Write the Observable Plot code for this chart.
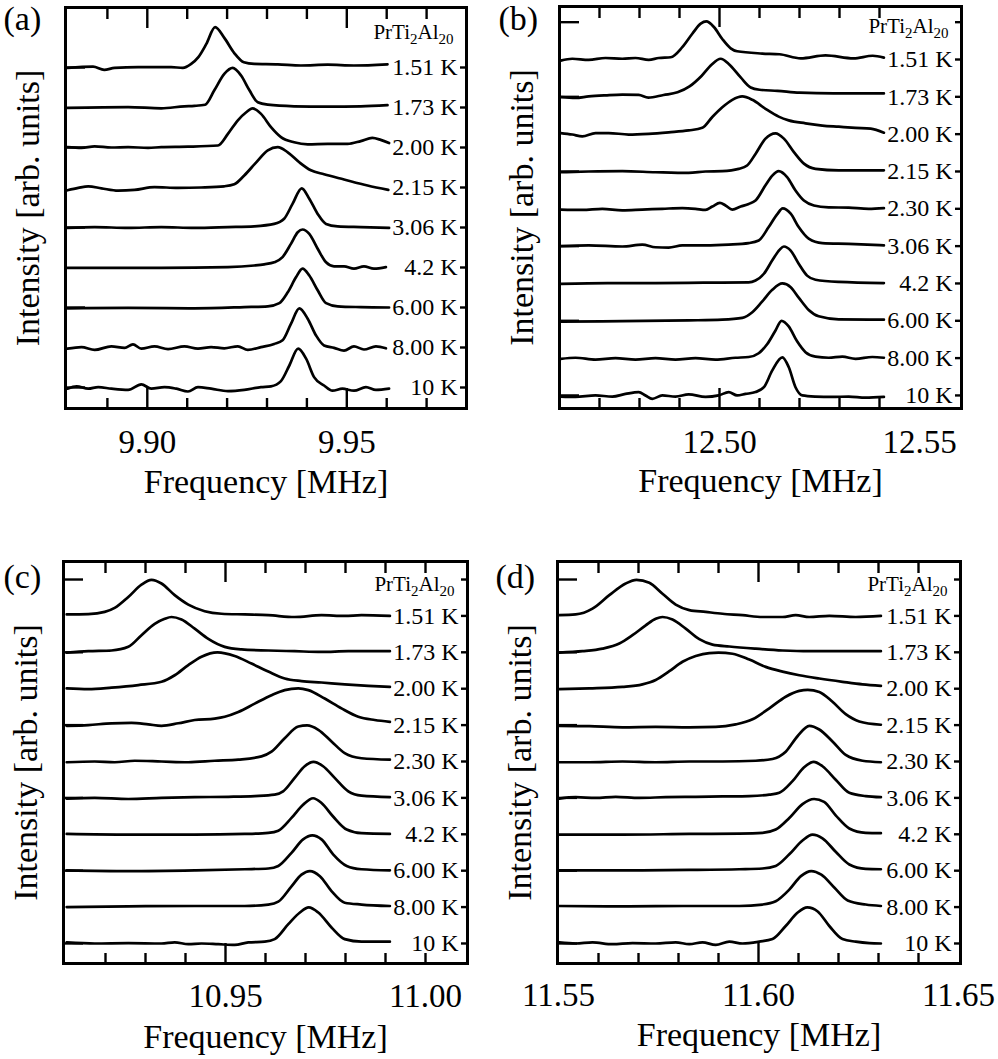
<!DOCTYPE html>
<html>
<head>
<meta charset="utf-8">
<script src="https://cdn.jsdelivr.net/npm/d3@7"></script>
<script src="https://cdn.jsdelivr.net/npm/@observablehq/plot@0.6"></script>
<style>
  html, body { margin: 0; padding: 0; background: #fff; }
  #fig { position: relative; width: 998px; height: 1059px; overflow: hidden; background: #fff;
         font-family: "Liberation Serif", "Times New Roman", Times, serif; }
  #fig > div { position: absolute; }
  #fig svg text { font-family: "Liberation Serif", "Times New Roman", Times, serif; }
</style>
</head>
<body>
<div id="fig"></div>
<script>
// NMR spectra of PrTi2Al20 at several temperatures, four lines (a)-(d).
// Each spectrum: [frequency (MHz), intensity relative to its own baseline];
// baselines are stacked one unit apart.

const tempsA = ["1.51 K", "1.73 K", "2.00 K", "2.15 K", "3.06 K", "4.2 K", "6.00 K", "8.00 K", "10 K"];
const tempsBCD = ["1.51 K", "1.73 K", "2.00 K", "2.15 K", "2.30 K", "3.06 K", "4.2 K", "6.00 K", "8.00 K", "10 K"];
const compound = "PrTi2Al20";

// ---- (a) ----
const a151 = [[9.8800,-0.01],[9.8864,0.02],[9.8892,-0.06],[9.8918,-0.01],[9.8977,0.01],[9.9060,0.01],[9.9089,-0.01],[9.9110,0.09],[9.9128,0.26],[9.9148,0.59],[9.9170,1.01],[9.9193,0.74],[9.9218,0.36],[9.9242,0.13],[9.9268,0.09],[9.9327,0.08],[9.9385,0.05],[9.9452,0.07],[9.9518,0.05],[9.9602,0.08]];
const a173 = [[9.8800,-0.01],[9.8952,0.01],[9.9035,-0.02],[9.9093,0.03],[9.9118,0.04],[9.9145,0.07],[9.9168,0.43],[9.9193,0.84],[9.9214,0.99],[9.9235,0.80],[9.9256,0.43],[9.9277,0.13],[9.9302,0.07],[9.9368,0.03],[9.9452,0.02],[9.9535,0.03],[9.9602,0.06]];
const a200 = [[9.8800,0.01],[9.8835,-0.01],[9.8868,0.03],[9.8910,0.00],[9.8952,0.01],[9.9002,-0.01],[9.9035,0.01],[9.9102,0.02],[9.9177,0.05],[9.9202,0.34],[9.9227,0.68],[9.9248,0.88],[9.9264,0.98],[9.9285,0.84],[9.9310,0.51],[9.9335,0.26],[9.9368,0.13],[9.9402,0.08],[9.9452,0.09],[9.9502,0.09],[9.9535,0.16],[9.9564,0.24],[9.9585,0.19],[9.9606,0.11]];
const a215 = [[9.8800,-0.07],[9.8827,-0.01],[9.8852,0.03],[9.8885,-0.02],[9.8927,-0.08],[9.8968,-0.06],[9.9018,0.01],[9.9077,-0.01],[9.9135,0.00],[9.9193,0.03],[9.9218,0.08],[9.9243,0.30],[9.9273,0.63],[9.9302,0.93],[9.9327,1.01],[9.9352,0.88],[9.9381,0.63],[9.9410,0.43],[9.9443,0.33],[9.9493,0.20],[9.9552,0.05],[9.9604,-0.06]];
const a306 = [[9.8800,-0.01],[9.8868,0.01],[9.8952,-0.01],[9.9035,0.01],[9.9118,-0.01],[9.9202,0.01],[9.9268,0.03],[9.9318,0.09],[9.9343,0.22],[9.9364,0.59],[9.9387,0.98],[9.9406,0.72],[9.9427,0.34],[9.9448,0.09],[9.9477,0.03],[9.9535,0.01],[9.9606,-0.01]];
const a42 = [[9.8800,-0.01],[9.9035,-0.01],[9.9202,0.01],[9.9268,0.05],[9.9293,0.08],[9.9318,0.13],[9.9339,0.26],[9.9360,0.59],[9.9377,0.88],[9.9389,0.95],[9.9406,0.84],[9.9427,0.47],[9.9448,0.13],[9.9468,0.03],[9.9493,0.03],[9.9518,-0.03],[9.9543,0.03],[9.9568,-0.03],[9.9598,0.01]];
const a600 = [[9.8800,-0.02],[9.8952,-0.01],[9.9118,-0.02],[9.9243,0.01],[9.9302,0.03],[9.9331,0.11],[9.9352,0.38],[9.9373,0.76],[9.9389,0.97],[9.9406,0.80],[9.9427,0.43],[9.9448,0.11],[9.9477,0.03],[9.9535,0.01],[9.9606,0.00]];
const a800 = [[9.8800,-0.03],[9.8835,0.01],[9.8868,-0.06],[9.8910,0.03],[9.8943,-0.01],[9.8964,0.08],[9.8985,-0.03],[9.9018,0.03],[9.9052,-0.04],[9.9093,0.03],[9.9127,-0.03],[9.9160,0.01],[9.9193,-0.02],[9.9227,0.03],[9.9252,-0.06],[9.9285,0.01],[9.9318,0.09],[9.9339,0.18],[9.9360,0.59],[9.9381,0.98],[9.9402,0.72],[9.9423,0.30],[9.9443,0.05],[9.9468,-0.01],[9.9493,-0.08],[9.9518,0.03],[9.9543,-0.05],[9.9573,0.03],[9.9598,-0.02]];
const a10 = [[9.8800,-0.03],[9.8823,0.03],[9.8852,-0.03],[9.8877,0.01],[9.8910,-0.03],[9.8952,-0.06],[9.8985,0.08],[9.9010,-0.03],[9.9043,0.01],[9.9073,-0.03],[9.9102,-0.10],[9.9127,0.01],[9.9160,-0.03],[9.9202,-0.09],[9.9243,-0.06],[9.9285,0.01],[9.9310,0.03],[9.9335,0.16],[9.9356,0.55],[9.9378,0.97],[9.9398,0.72],[9.9418,0.26],[9.9443,0.05],[9.9464,-0.08],[9.9489,-0.03],[9.9518,-0.08],[9.9548,0.01],[9.9573,-0.06],[9.9606,-0.03]];

// ---- (b) ----
const b151 = [[12.4603,-0.03],[12.4632,0.02],[12.4673,-0.01],[12.4715,0.04],[12.4757,0.02],[12.4790,0.04],[12.4823,-0.01],[12.4848,0.04],[12.4878,0.06],[12.4907,0.33],[12.4932,0.69],[12.4953,0.96],[12.4967,1.02],[12.4986,0.87],[12.5007,0.55],[12.5028,0.30],[12.5044,0.22],[12.5107,0.16],[12.5150,0.14],[12.5203,0.03],[12.5265,0.11],[12.5335,0.03],[12.5383,0.10],[12.5411,0.05]];
const b173 = [[12.4603,-0.01],[12.4640,-0.03],[12.4673,0.01],[12.4715,0.04],[12.4757,0.06],[12.4798,0.05],[12.4822,-0.02],[12.4860,0.05],[12.4895,0.12],[12.4925,0.28],[12.4955,0.56],[12.4980,0.86],[12.5003,1.02],[12.5023,0.88],[12.5053,0.52],[12.5078,0.25],[12.5100,0.19],[12.5145,0.16],[12.5200,0.11],[12.5285,0.09],[12.5340,0.09],[12.5411,0.09]];
const b200 = [[12.4603,0.03],[12.4632,-0.01],[12.4657,-0.06],[12.4690,0.03],[12.4723,0.03],[12.4773,-0.01],[12.4823,0.01],[12.4873,0.05],[12.4923,0.10],[12.4957,0.17],[12.4982,0.46],[12.5007,0.72],[12.5032,0.92],[12.5057,1.01],[12.5082,0.92],[12.5115,0.68],[12.5148,0.47],[12.5173,0.37],[12.5215,0.29],[12.5257,0.23],[12.5298,0.20],[12.5340,0.17],[12.5378,0.15],[12.5411,0.04]];
const b215 = [[12.4603,-0.02],[12.4673,0.00],[12.4757,0.01],[12.4840,-0.02],[12.4923,-0.04],[12.4965,0.00],[12.5007,0.01],[12.5048,0.07],[12.5069,0.16],[12.5090,0.47],[12.5115,0.88],[12.5140,1.02],[12.5161,0.88],[12.5186,0.52],[12.5211,0.21],[12.5240,0.07],[12.5298,0.03],[12.5357,0.03],[12.5411,0.03]];
const b230 = [[12.4603,-0.02],[12.4657,-0.03],[12.4707,0.00],[12.4757,-0.04],[12.4807,-0.02],[12.4857,0.00],[12.4907,0.02],[12.4940,0.00],[12.4965,-0.03],[12.4982,0.06],[12.5001,0.16],[12.5015,0.09],[12.5032,-0.02],[12.5053,0.06],[12.5073,0.13],[12.5090,0.22],[12.5115,0.63],[12.5132,0.89],[12.5148,1.01],[12.5169,0.85],[12.5190,0.49],[12.5211,0.22],[12.5236,0.09],[12.5273,0.04],[12.5323,0.03],[12.5373,0.00],[12.5411,0.02]];
const b306 = [[12.4603,0.00],[12.4673,0.02],[12.4757,-0.01],[12.4807,0.04],[12.4840,-0.03],[12.4873,-0.04],[12.4907,0.02],[12.4965,0.02],[12.5023,0.04],[12.5073,0.08],[12.5098,0.15],[12.5123,0.51],[12.5144,0.85],[12.5158,1.01],[12.5178,0.87],[12.5198,0.51],[12.5223,0.20],[12.5257,0.08],[12.5323,0.06],[12.5411,0.02]];
const b42 = [[12.4603,-0.01],[12.4720,0.01],[12.4840,0.01],[12.4960,0.02],[12.5073,0.03],[12.5090,0.08],[12.5111,0.26],[12.5132,0.62],[12.5150,0.90],[12.5161,0.99],[12.5178,0.88],[12.5198,0.53],[12.5219,0.21],[12.5240,0.10],[12.5298,0.04],[12.5411,0.01]];
const b600 = [[12.4603,-0.02],[12.4757,-0.01],[12.4923,0.01],[12.5007,0.03],[12.5057,0.08],[12.5082,0.23],[12.5107,0.52],[12.5132,0.83],[12.5157,1.00],[12.5178,0.90],[12.5198,0.62],[12.5223,0.29],[12.5248,0.12],[12.5298,0.04],[12.5411,0.03]];
const b800 = [[12.4603,-0.02],[12.4640,0.01],[12.4690,-0.04],[12.4740,0.00],[12.4790,-0.04],[12.4840,0.00],[12.4890,-0.04],[12.4940,0.00],[12.4990,-0.04],[12.5040,0.01],[12.5073,0.03],[12.5098,0.13],[12.5119,0.37],[12.5140,0.74],[12.5155,1.00],[12.5173,0.85],[12.5194,0.45],[12.5215,0.16],[12.5240,0.04],[12.5273,0.01],[12.5307,0.04],[12.5340,-0.02],[12.5382,0.03],[12.5411,0.01]];
const b10 = [[12.4603,-0.03],[12.4640,-0.04],[12.4690,0.00],[12.4732,-0.03],[12.4765,0.04],[12.4798,0.09],[12.4815,0.00],[12.4832,-0.09],[12.4857,0.00],[12.4890,-0.03],[12.4923,0.03],[12.4965,-0.04],[12.4998,0.00],[12.5023,0.09],[12.5044,0.00],[12.5065,0.04],[12.5090,0.09],[12.5111,0.22],[12.5132,0.67],[12.5157,1.02],[12.5173,0.76],[12.5190,0.22],[12.5207,0.00],[12.5240,-0.03],[12.5282,-0.04],[12.5323,-0.03],[12.5365,-0.06],[12.5411,-0.04]];

// ---- (c) ----
const c151 = [[10.9103,0.04],[10.9157,0.05],[10.9198,0.11],[10.9223,0.22],[10.9257,0.52],[10.9290,0.86],[10.9315,0.99],[10.9340,0.89],[10.9373,0.57],[10.9407,0.31],[10.9448,0.13],[10.9490,0.06],[10.9548,0.04],[10.9607,0.02],[10.9673,-0.03],[10.9740,0.02],[10.9798,0.00],[10.9840,0.02],[10.9911,0.00]];
const c173 = [[10.9103,-0.01],[10.9157,0.03],[10.9215,0.05],[10.9257,0.15],[10.9290,0.47],[10.9323,0.78],[10.9348,0.92],[10.9365,0.97],[10.9390,0.90],[10.9423,0.65],[10.9457,0.37],[10.9498,0.15],[10.9540,0.08],[10.9607,0.05],[10.9673,0.03],[10.9740,0.01],[10.9807,0.03],[10.9911,0.03]];
const c200 = [[10.9103,0.01],[10.9157,-0.01],[10.9215,0.03],[10.9282,0.10],[10.9340,0.19],[10.9373,0.37],[10.9407,0.65],[10.9440,0.88],[10.9480,1.00],[10.9523,0.90],[10.9565,0.69],[10.9607,0.47],[10.9648,0.28],[10.9690,0.21],[10.9740,0.17],[10.9798,0.12],[10.9857,0.08],[10.9911,0.05]];
const c215 = [[10.9103,-0.02],[10.9157,0.00],[10.9215,0.05],[10.9265,0.06],[10.9307,0.02],[10.9340,-0.02],[10.9382,0.05],[10.9423,0.14],[10.9473,0.18],[10.9498,0.23],[10.9532,0.36],[10.9573,0.59],[10.9615,0.82],[10.9648,0.96],[10.9682,1.01],[10.9707,0.96],[10.9748,0.73],[10.9790,0.46],[10.9832,0.23],[10.9873,0.14],[10.9911,0.09]];
const c230 = [[10.9103,-0.02],[10.9173,0.00],[10.9223,-0.02],[10.9273,0.02],[10.9340,0.00],[10.9407,-0.02],[10.9473,0.02],[10.9532,0.05],[10.9590,0.14],[10.9615,0.27],[10.9648,0.64],[10.9682,0.96],[10.9704,0.99],[10.9732,0.87],[10.9765,0.55],[10.9798,0.23],[10.9840,0.09],[10.9911,0.05]];
const c306 = [[10.9103,-0.02],[10.9173,0.00],[10.9257,-0.03],[10.9340,0.00],[10.9423,0.02],[10.9507,0.03],[10.9573,0.05],[10.9623,0.09],[10.9644,0.18],[10.9673,0.55],[10.9698,0.87],[10.9720,0.99],[10.9744,0.87],[10.9773,0.55],[10.9807,0.18],[10.9840,0.06],[10.9911,0.02]];
const c42 = [[10.9103,0.01],[10.9257,-0.01],[10.9423,-0.01],[10.9548,0.01],[10.9607,0.04],[10.9632,0.10],[10.9665,0.45],[10.9694,0.81],[10.9719,0.99],[10.9740,0.86],[10.9769,0.49],[10.9803,0.13],[10.9840,0.03],[10.9911,0.01]];
const c600 = [[10.9103,0.01],[10.9257,-0.01],[10.9423,0.01],[10.9548,0.04],[10.9607,0.06],[10.9632,0.13],[10.9665,0.49],[10.9694,0.86],[10.9717,0.97],[10.9740,0.86],[10.9769,0.45],[10.9803,0.13],[10.9840,0.04],[10.9911,0.01]];
const c800 = [[10.9103,0.00],[10.9257,0.02],[10.9423,0.03],[10.9548,0.03],[10.9607,0.07],[10.9632,0.15],[10.9665,0.57],[10.9690,0.89],[10.9711,0.99],[10.9736,0.85],[10.9765,0.44],[10.9798,0.12],[10.9840,0.07],[10.9911,0.03]];
const c10 = [[10.9103,0.03],[10.9173,0.00],[10.9257,0.01],[10.9340,0.00],[10.9373,0.03],[10.9407,-0.02],[10.9440,0.00],[10.9482,-0.02],[10.9523,-0.04],[10.9557,0.03],[10.9598,0.05],[10.9623,0.12],[10.9657,0.53],[10.9686,0.85],[10.9708,0.99],[10.9732,0.85],[10.9765,0.44],[10.9798,0.12],[10.9840,0.05],[10.9911,0.05]];

// ---- (d) ----
const d151 = [[11.5502,0.02],[11.5543,0.04],[11.5585,0.20],[11.5627,0.57],[11.5668,0.89],[11.5695,0.99],[11.5727,0.91],[11.5760,0.61],[11.5793,0.31],[11.5827,0.16],[11.5868,0.11],[11.5910,0.06],[11.5960,0.02],[11.6010,-0.03],[11.6060,-0.03],[11.6093,0.02],[11.6127,-0.03],[11.6177,0.00],[11.6243,-0.03],[11.6306,0.00]];
const d173 = [[11.5502,-0.01],[11.5560,0.03],[11.5610,0.10],[11.5652,0.24],[11.5685,0.47],[11.5718,0.74],[11.5743,0.92],[11.5760,0.97],[11.5785,0.90],[11.5818,0.65],[11.5852,0.36],[11.5885,0.21],[11.5927,0.16],[11.5993,0.10],[11.6060,0.05],[11.6127,0.03],[11.6202,0.03],[11.6306,0.03]];
const d200 = [[11.5502,-0.01],[11.5577,0.01],[11.5660,0.05],[11.5710,0.12],[11.5743,0.24],[11.5777,0.48],[11.5810,0.74],[11.5843,0.90],[11.5877,0.98],[11.5900,0.99],[11.5935,0.96],[11.5977,0.80],[11.6018,0.60],[11.6060,0.47],[11.6102,0.37],[11.6152,0.28],[11.6210,0.19],[11.6260,0.12],[11.6306,0.08]];
const d215 = [[11.5502,-0.02],[11.5577,-0.03],[11.5660,-0.06],[11.5743,-0.05],[11.5827,-0.06],[11.5893,-0.05],[11.5943,0.02],[11.5985,0.16],[11.6027,0.46],[11.6068,0.78],[11.6102,0.94],[11.6123,0.97],[11.6152,0.91],[11.6185,0.64],[11.6218,0.30],[11.6252,0.10],[11.6306,0.01]];
const d230 = [[11.5502,-0.02],[11.5577,-0.02],[11.5660,0.00],[11.5743,-0.02],[11.5827,0.00],[11.5910,0.00],[11.5993,0.02],[11.6035,0.07],[11.6068,0.27],[11.6098,0.70],[11.6127,0.98],[11.6152,0.88],[11.6185,0.55],[11.6218,0.18],[11.6260,0.02],[11.6306,-0.02]];
const d306 = [[11.5502,-0.02],[11.5543,0.02],[11.5593,0.00],[11.5643,0.03],[11.5702,0.00],[11.5768,0.02],[11.5843,0.03],[11.5910,0.04],[11.5977,0.05],[11.6027,0.09],[11.6052,0.14],[11.6085,0.46],[11.6114,0.84],[11.6138,0.99],[11.6160,0.87],[11.6193,0.50],[11.6227,0.14],[11.6268,0.05],[11.6306,0.02]];
const d42 = [[11.5502,-0.01],[11.5660,-0.01],[11.5827,0.01],[11.5952,0.02],[11.6010,0.04],[11.6043,0.13],[11.6077,0.45],[11.6110,0.83],[11.6139,0.97],[11.6164,0.89],[11.6193,0.52],[11.6227,0.16],[11.6268,0.04],[11.6306,0.03]];
const d600 = [[11.5502,0.01],[11.5660,0.01],[11.5827,0.02],[11.5952,0.04],[11.6010,0.06],[11.6043,0.13],[11.6077,0.45],[11.6110,0.83],[11.6135,0.99],[11.6160,0.89],[11.6193,0.52],[11.6227,0.17],[11.6268,0.05],[11.6306,0.04]];
const d800 = [[11.5502,0.03],[11.5660,0.02],[11.5827,0.03],[11.5952,0.03],[11.6010,0.07],[11.6043,0.16],[11.6077,0.48],[11.6106,0.85],[11.6132,0.99],[11.6157,0.89],[11.6190,0.53],[11.6223,0.18],[11.6268,0.07],[11.6306,0.03]];
const d10 = [[11.5502,0.03],[11.5543,0.00],[11.5585,0.03],[11.5635,-0.02],[11.5685,0.01],[11.5743,0.00],[11.5793,0.03],[11.5827,-0.02],[11.5860,0.03],[11.5893,-0.04],[11.5927,0.05],[11.5960,0.00],[11.6002,0.05],[11.6035,0.12],[11.6068,0.48],[11.6098,0.85],[11.6122,0.99],[11.6148,0.88],[11.6177,0.48],[11.6210,0.12],[11.6243,0.05],[11.6277,0.01],[11.6306,0.00]];

// Frequency axis ticks (MHz)
const labelsA = [9.90, 9.95];
const majorA = [9.90, 9.95];
const minorA = [9.89, 9.91, 9.92, 9.93, 9.94, 9.96, 9.97];
const labelsB = [12.50, 12.55];
const majorB = [12.50];
const minorB = [12.47, 12.48, 12.49, 12.51, 12.52, 12.53, 12.54];
const labelsC = [10.95, 11.00];
const majorC = [10.95];
const minorC = [10.92, 10.93, 10.94, 10.96, 10.97, 10.98, 10.99, 11.00];
const labelsD = [11.55, 11.60, 11.65];
const majorD = [11.60];
const minorD = [11.56, 11.57, 11.58, 11.59, 11.61, 11.62, 11.63, 11.64];

const FONT = '"Liberation Serif", "Times New Roman", Times, serif';
const LW = 2.7;

const panels = [
  {letter: "(a)", box: {left: 0, top: 0, width: 490, height: 510},
   margin: {top: 7, right: 24, bottom: 102, left: 65},
   xDomain: [9.8795, 9.98], yDomain: [-9.525, 0.5],
   temps: tempsA, spectra: [a151, a173, a200, a215, a306, a42, a600, a800, a10],
   tickLabels: labelsA, major: majorA, minor: minorA,
   leftRows: [1, 3, 5, 7, 9], rightRows: [1, 2, 3, 4, 5, 6, 7, 8, 9],
   letterDx: -62, letterDy: 22, tickDy: 44, titleDy: 84},
  {letter: "(b)", box: {left: 480, top: 0, width: 518, height: 510},
   margin: {top: 6, right: 37, bottom: 102, left: 79},
   xDomain: [12.46, 12.5605], yDomain: [-10.35, 0.42],
   temps: tempsBCD, spectra: [b151, b173, b200, b215, b230, b306, b42, b600, b800, b10],
   tickLabels: labelsB, major: majorB, minor: minorB,
   leftRows: [0, 2, 4, 6, 8, 10], rightRows: [0, 1, 2, 3, 4, 5, 6, 7, 8, 9, 10],
   letterDx: -61, letterDy: 23, tickDy: 44, titleDy: 83},
  {letter: "(c)", box: {left: 0, top: 530, width: 490, height: 529},
   margin: {top: 31, right: 23, bottom: 96, left: 63},
   xDomain: [10.9095, 11.0105], yDomain: [-10.55, 0.495],
   temps: tempsBCD, spectra: [c151, c173, c200, c215, c230, c306, c42, c600, c800, c10],
   tickLabels: labelsC, major: majorC, minor: minorC,
   leftRows: [0, 2, 4, 6, 8, 10], rightRows: [0, 1, 2, 3, 4, 5, 6, 7, 8, 9, 10],
   letterDx: -60, letterDy: 26, tickDy: 43, titleDy: 84},
  {letter: "(d)", box: {left: 480, top: 530, width: 518, height: 529},
   margin: {top: 31, right: 38, bottom: 96, left: 77},
   xDomain: [11.54975, 11.6505], yDomain: [-10.55, 0.495],
   temps: tempsBCD, spectra: [d151, d173, d200, d215, d230, d306, d42, d600, d800, d10],
   tickLabels: labelsD, major: majorD, minor: minorD,
   leftRows: [0, 2, 4, 6, 8, 10], rightRows: [0, 1, 2, 3, 4, 5, 6, 7, 8, 9, 10],
   letterDx: -62, letterDy: 26, tickDy: 42, titleDy: 82}
];

function drawPanel(p) {
  // stack each spectrum on its own baseline: row i+1 sits at y = -(i+1)
  const lines = p.spectra.flatMap((s, i) =>
    s.map(([f, h]) => ({f, y: -(i + 1) + h, T: p.temps[i]})));
  const rows = p.temps.map((t, i) => ({t, row: i + 1}));

  const tickStyle = {fill: "none", stroke: "black", strokeWidth: 2.4, label: null};
  const txt = {fill: "black", fontFamily: FONT};

  const chart = Plot.plot({
    width: p.box.width,
    height: p.box.height,
    marginTop: p.margin.top,
    marginRight: p.margin.right,
    marginBottom: p.margin.bottom,
    marginLeft: p.margin.left,
    style: `font-family: ${FONT}; background: transparent; color: black; overflow: visible;`,
    x: {domain: p.xDomain, label: null},
    y: {domain: p.yDomain, label: null},
    marks: [
      // spectra
      Plot.line(lines, {x: "f", y: "y", z: "T", curve: "monotone-x", stroke: "black",
                        strokeWidth: LW, strokeLinejoin: "round", strokeLinecap: "round"}),
      // inward ticks
      Plot.axisX(p.major, {anchor: "bottom", tickSize: -20, ...tickStyle}),
      Plot.axisX(p.minor, {anchor: "bottom", tickSize: -10, ...tickStyle}),
      Plot.axisX(p.major, {anchor: "top", tickSize: -20, ...tickStyle}),
      Plot.axisX(p.minor, {anchor: "top", tickSize: -11, ...tickStyle}),
      Plot.axisY(p.leftRows.map((r) => -r), {anchor: "left", tickSize: -20, ...tickStyle}),
      Plot.axisY(p.rightRows.map((r) => -r), {anchor: "right", tickSize: -7, ...tickStyle}),
      Plot.frame({stroke: "black", strokeWidth: 3}),
      // frequency tick labels
      Plot.text(p.tickLabels, {x: (d) => d, text: (d) => d.toFixed(2), frameAnchor: "bottom",
                               lineAnchor: "bottom", dy: p.tickDy, fontSize: 33, ...txt}),
      // axis titles
      Plot.text(["Frequency [MHz]"], {text: (d) => d, frameAnchor: "bottom", lineAnchor: "bottom",
                                      dy: p.titleDy, fontSize: 34, ...txt}),
      Plot.text(["Intensity [arb. units]"], {text: (d) => d, frameAnchor: "left", rotate: -90,
                                             textAnchor: "middle", lineAnchor: "bottom",
                                             dx: -27, fontSize: 34, ...txt}),
      // panel letter
      Plot.text([p.letter], {text: (d) => d, frameAnchor: "top-left", textAnchor: "start",
                             lineAnchor: "bottom", dx: p.letterDx, dy: p.letterDy,
                             fontSize: 34, ...txt}),
      // temperature labels
      Plot.text(rows, {y: (d) => -d.row, text: "t", frameAnchor: "right", textAnchor: "end",
                       lineAnchor: "middle", dx: -9, fontSize: 24, ...txt}),
      // compound name
      Plot.text([compound], {y: () => 0, text: (d) => d, frameAnchor: "right", textAnchor: "end",
                             lineAnchor: "bottom", dx: -13, dy: 11, fontSize: 21, ...txt})
    ]
  });

  // chemical formula subscripts
  chart.querySelectorAll("text").forEach((t) => {
    if (t.textContent === compound) {
      t.textContent = "";
      const parts = [["PrTi", false], ["2", true], ["Al", false], ["20", true]];
      let shifted = false;
      for (const [s, sub] of parts) {
        const ts = document.createElementNS("http://www.w3.org/2000/svg", "tspan");
        ts.textContent = s;
        if (sub) ts.setAttribute("font-size", "15");
        if (sub && !shifted) { ts.setAttribute("dy", "5"); shifted = true; }
        else if (!sub && shifted) { ts.setAttribute("dy", "-5"); shifted = false; }
        t.appendChild(ts);
      }
    }
  });

  const holder = document.createElement("div");
  holder.style.left = p.box.left + "px";
  holder.style.top = p.box.top + "px";
  holder.style.width = p.box.width + "px";
  holder.style.height = p.box.height + "px";
  holder.appendChild(chart);
  document.getElementById("fig").appendChild(holder);
}

panels.forEach(drawPanel);
</script>
</body>
</html>
